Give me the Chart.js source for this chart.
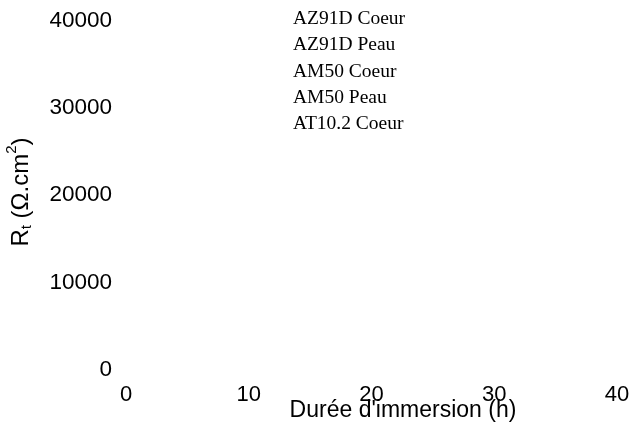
<!DOCTYPE html>
<html lang="fr">
<head>
    <meta charset="UTF-8">
    <title>Rt vs durée d'immersion</title>
    <script src="https://cdn.jsdelivr.net/npm/chart.js"></script>
    <style>
        body { margin: 0; background: #fff; }
        #wrap { width: 630px; height: 430px; }
    </style>
</head>
<body>
    <div id="wrap"><canvas id="rtChart" width="630" height="430"></canvas></div>

    <script>
        // series names (legend) and their values - nothing is plotted in the reference
        const seriesLabels = ['AZ91D Coeur', 'AZ91D Peau', 'AM50 Coeur', 'AM50 Peau', 'AT10.2 Coeur'];
        const az91dCoeur = [];
        const az91dPeau = [];
        const am50Coeur = [];
        const am50Peau = [];
        const at102Coeur = [];
        const seriesValues = [az91dCoeur, az91dPeau, am50Coeur, am50Peau, at102Coeur];

        // axis ranges / ticks
        const xTicks = [0, 10, 20, 30, 40];
        const yTicks = [0, 10000, 20000, 30000, 40000];

        const sans = "'Liberation Sans', Arial, sans-serif";
        const serif = "'Liberation Serif', 'Times New Roman', serif";

        // text-only legend + axis titles (with sub/superscript on the y title)
        const textPlugin = {
            id: 'textPlugin',
            afterDraw(chart) {
                const ctx = chart.ctx;
                ctx.save();
                ctx.fillStyle = '#000';

                // legend
                ctx.font = '19.5px ' + serif;
                ctx.textAlign = 'left';
                ctx.textBaseline = 'middle';
                chart.data.datasets.forEach((ds, i) => {
                    ctx.fillText(ds.label, 293, 19 + i * 26.2);
                });

                // x title
                ctx.font = '23px ' + sans;
                ctx.textAlign = 'center';
                ctx.textBaseline = 'middle';
                ctx.fillText("Durée d'immersion (h)", 403, 411);

                // y title, rotated
                ctx.translate(21, 192);
                ctx.rotate(-Math.PI / 2);
                const parts = [
                    { t: 'R', size: 24, dy: 0 },
                    { t: 't', size: 15, dy: 6 },
                    { t: ' (\u03A9.cm', size: 24, dy: 0 },
                    { t: '2', size: 15, dy: -9 },
                    { t: ')', size: 24, dy: 0 }
                ];
                let total = 0;
                parts.forEach(p => {
                    ctx.font = p.size + 'px ' + sans;
                    p.w = ctx.measureText(p.t).width;
                    total += p.w;
                });
                let x = -total / 2;
                ctx.textAlign = 'left';
                parts.forEach(p => {
                    ctx.font = p.size + 'px ' + sans;
                    ctx.fillText(p.t, x, p.dy);
                    x += p.w;
                });
                ctx.restore();
            }
        };

        // drop the automatic label-overflow padding, layout.padding decides the plot box
        function noAutoPadding(s) {
            s.paddingTop = 0;
            s.paddingBottom = 0;
            s.paddingLeft = 0;
            s.paddingRight = 0;
        }

        const ctx = document.getElementById('rtChart').getContext('2d');
        const rtChart = new Chart(ctx, {
            type: 'scatter',
            data: {
                datasets: seriesLabels.map((label, i) => ({
                    label: label,
                    data: seriesValues[i],
                    borderColor: '#000',
                    backgroundColor: '#000'
                }))
            },
            options: {
                responsive: false,
                animation: false,
                devicePixelRatio: 1,
                layout: { padding: { top: 20.5, right: 13, left: 0, bottom: 0 } },
                plugins: {
                    legend: { display: false },
                    tooltip: { enabled: false }
                },
                scales: {
                    x: {
                        type: 'linear',
                        min: xTicks[0],
                        max: xTicks[xTicks.length - 1],
                        afterBuildTicks: s => { s.ticks = xTicks.map(v => ({ value: v })); },
                        afterFit: s => { s.height = 60; noAutoPadding(s); },
                        grid: { display: false, drawTicks: false },
                        border: { display: false },
                        ticks: { color: '#000', padding: 12, maxRotation: 0, font: { family: sans, size: 22 } }
                    },
                    y: {
                        type: 'linear',
                        min: yTicks[0],
                        max: yTicks[yTicks.length - 1],
                        afterBuildTicks: s => { s.ticks = yTicks.map(v => ({ value: v })); },
                        afterFit: s => { s.width = 126; noAutoPadding(s); },
                        grid: { display: false, drawTicks: false },
                        border: { display: false },
                        ticks: { color: '#000', padding: 14, callback: v => String(v), font: { family: sans, size: 22.5 } }
                    }
                }
            },
            plugins: [textPlugin]
        });
    </script>
</body>
</html>
